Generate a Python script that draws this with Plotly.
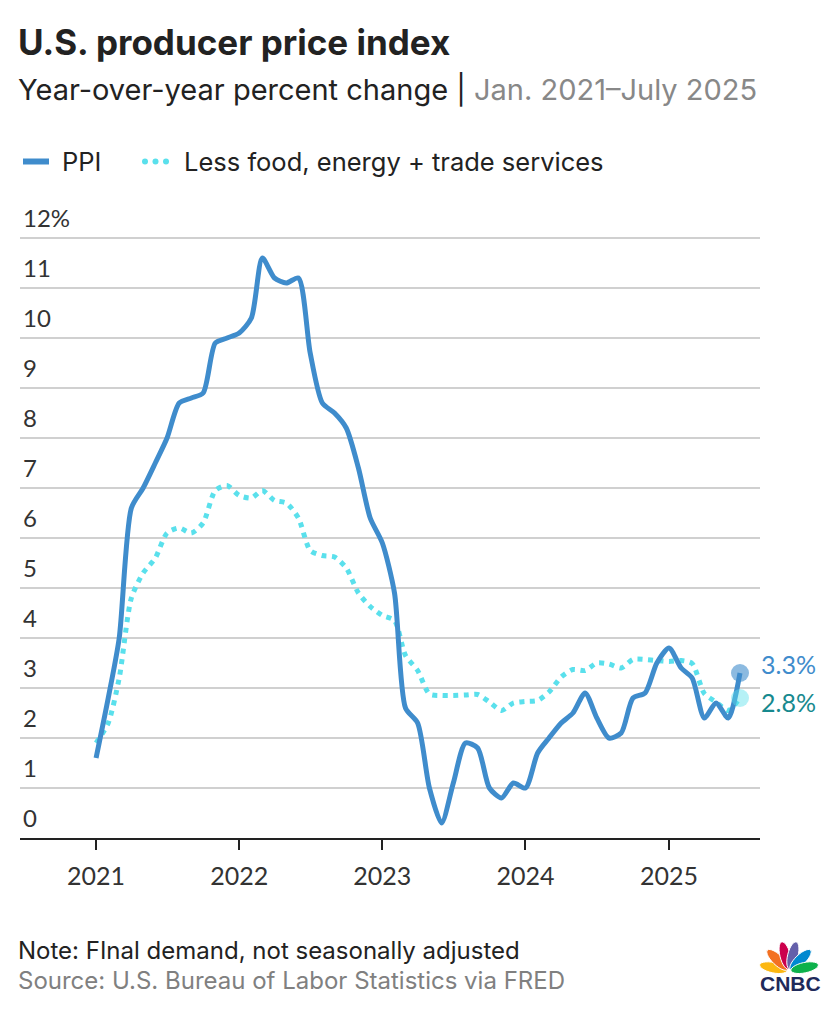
import math
import pandas as pd
import plotly.graph_objects as go

# ---------------- data ----------------
dates = pd.date_range("2021-01-01", "2025-07-01", freq="MS")

ppi = [1.6, 2.8, 4.0, 6.6, 7.0, 7.5, 8.0, 8.7, 8.8, 8.9, 9.9, 10.0,
       10.1, 10.4, 11.6, 11.2, 11.1, 11.2, 9.7, 8.7, 8.5, 8.2, 7.4, 6.4,
       5.9, 4.9, 2.6, 2.3, 1.0, 0.3, 1.1, 1.9, 1.8, 1.0, 0.8, 1.1,
       1.0, 1.7, 2.0, 2.3, 2.5, 2.9, 2.4, 2.0, 2.1, 2.8, 2.9, 3.5,
       3.8, 3.4, 3.2, 2.4, 2.7, 2.4, 3.3]

core = [1.9, 2.3, 3.2, 4.8, 5.3, 5.6, 6.1, 6.2, 6.1, 6.3, 6.95, 7.05,
        6.85, 6.8, 6.95, 6.75, 6.7, 6.4, 5.75, 5.65, 5.62, 5.4, 4.9, 4.63,
        4.45, 4.35, 3.65, 3.35, 2.88, 2.85, 2.85, 2.86, 2.87, 2.72, 2.55, 2.7,
        2.73, 2.75, 2.92, 3.22, 3.37, 3.35, 3.5, 3.48, 3.4, 3.57, 3.57, 3.55,
        3.53, 3.55, 3.49, 2.89, 2.72, 2.55, 2.8]

ytick_vals = list(range(0, 13))
ytick_text = [str(v) for v in ytick_vals[:-1]] + ["12%"]

series_names = ["PPI", "Less food, energy + trade services"]

# ---------------- style ----------------
FONT = "Lato"
TFONT = "Inter"
BLUE = "#3f8ccc"
CYAN = "#5ae0ec"
TEAL = "#17898e"
DARK = "#222222"
GREY = "#808080"

W, H = 840, 1026
L, R, T, B = 20, 760, 213, 838
PW, PH = R - L, B - T


def px(x):
    return (x - L) / PW


def py(y):
    return (B - y) / PH


fig = go.Figure()

fig.add_trace(go.Scatter(
    x=dates, y=core, mode="lines", name=series_names[1],
    line=dict(color=CYAN, width=5, dash="5px,5.5px", shape="spline", smoothing=0.7),
    hoverinfo="skip", showlegend=False))

fig.add_trace(go.Scatter(
    x=dates, y=ppi, mode="lines", name=series_names[0],
    line=dict(color=BLUE, width=5, shape="spline", smoothing=0.7),
    hoverinfo="skip", showlegend=False))

# end markers
fig.add_trace(go.Scatter(
    x=[dates[-1]], y=[core[-1]], mode="markers",
    marker=dict(size=18, color=CYAN, opacity=0.45, line=dict(width=0)),
    hoverinfo="skip", showlegend=False))
fig.add_trace(go.Scatter(
    x=[dates[-1]], y=[ppi[-1]], mode="markers",
    marker=dict(size=18, color=BLUE, opacity=0.6, line=dict(width=0)),
    hoverinfo="skip", showlegend=False))

annotations = []
shapes = []

# end labels
annotations.append(dict(x=dates[-1], y=ppi[-1], xref="x", yref="y",
                        text=f"{ppi[-1]}%", showarrow=False, xanchor="left", yanchor="middle",
                        xshift=19, yshift=9, font=dict(family=FONT, size=25, color=BLUE)))
annotations.append(dict(x=dates[-1], y=core[-1], xref="x", yref="y",
                        text=f"{core[-1]}%", showarrow=False, xanchor="left", yanchor="middle",
                        xshift=19, yshift=-4, font=dict(family=FONT, size=25, color=TEAL)))

# title / subtitle
annotations.append(dict(x=px(16), y=py(42), xref="paper", yref="paper",
                        text="<b>U.S. producer price index</b>", showarrow=False,
                        xanchor="left", yanchor="middle",
                        font=dict(family=TFONT, size=35, color=DARK)))
annotations.append(dict(x=px(16), y=py(90), xref="paper", yref="paper",
                        text="Year-over-year percent change | <span style='color:#888888'>Jan. 2021\u2013July 2025</span>",
                        showarrow=False, xanchor="left", yanchor="middle",
                        font=dict(family=TFONT, size=29, color=DARK)))

# legend
shapes.append(dict(type="line", xref="paper", yref="paper",
                   x0=px(23), x1=px(49), y0=py(161.5), y1=py(161.5),
                   line=dict(color=BLUE, width=6)))
annotations.append(dict(x=px(60), y=py(161), xref="paper", yref="paper",
                        text=series_names[0], showarrow=False, xanchor="left", yanchor="middle",
                        font=dict(family=TFONT, size=25.5, color=DARK)))
for cx in (145, 155.5, 166):
    shapes.append(dict(type="circle", xref="paper", yref="paper",
                       x0=px(cx - 3), x1=px(cx + 3), y0=py(161.5 + 3), y1=py(161.5 - 3),
                       fillcolor=CYAN, line=dict(width=0)))
annotations.append(dict(x=px(182), y=py(161), xref="paper", yref="paper",
                        text=series_names[1], showarrow=False, xanchor="left", yanchor="middle",
                        font=dict(family=TFONT, size=25.5, color=DARK)))

# notes
annotations.append(dict(x=px(16), y=py(950), xref="paper", yref="paper",
                        text="Note: FInal demand, not seasonally adjusted", showarrow=False,
                        xanchor="left", yanchor="middle",
                        font=dict(family=TFONT, size=24, color=DARK)))
annotations.append(dict(x=px(16), y=py(980), xref="paper", yref="paper",
                        text="Source: U.S. Bureau of Labor Statistics via FRED", showarrow=False,
                        xanchor="left", yanchor="middle",
                        font=dict(family=TFONT, size=24, color=GREY)))

# CNBC logo (peacock + wordmark)
base_x, base_y = 789, 971
feathers = [(168, "#FCB711"), (136, "#F37021"), (104, "#CC004C"),
            (76, "#6460AA"), (44, "#0089D0"), (12, "#0DB14B")]
for ang, col in feathers:
    a = math.radians(ang)
    cx = base_x + 16 * math.cos(a)
    cy = base_y - 16 * math.sin(a)
    pts = []
    for k in range(28):
        t = 2 * math.pi * k / 28
        u = 14 * math.cos(t)
        v = 5.2 * math.sin(t)
        xx = cx + u * math.cos(a) - v * math.sin(a)
        yy = cy - (u * math.sin(a) + v * math.cos(a))
        pts.append((px(xx), py(yy)))
    path = "M " + " L ".join(f"{x:.5f},{y:.5f}" for x, y in pts) + " Z"
    shapes.append(dict(type="path", xref="paper", yref="paper", path=path,
                       fillcolor=col, line=dict(width=1, color="white")))
annotations.append(dict(x=px(791), y=py(983), xref="paper", yref="paper",
                        text="<b>CNBC</b>", showarrow=False, xanchor="center", yanchor="middle",
                        font=dict(family="Liberation Sans", size=21, color="#1f2a5a")))

fig.update_layout(
    width=W, height=H,
    margin=dict(l=L, r=W - R, t=T, b=H - B, pad=0),
    paper_bgcolor="white", plot_bgcolor="white",
    font=dict(family=FONT, color=DARK),
    annotations=annotations, shapes=shapes,
    showlegend=False,
    xaxis=dict(type="date", range=["2020-06-21", "2025-08-21"],
               tick0="2021-01-01", dtick="M12", tickformat="%Y",
               ticks="outside", ticklen=10, tickwidth=2, tickcolor=DARK,
               showline=True, linecolor=DARK, linewidth=2,
               showgrid=False, zeroline=False, ticklabelstandoff=5,
               tickfont=dict(family=FONT, size=25, color="#333333")),
    yaxis=dict(range=[0, 12.5], tickvals=ytick_vals, ticktext=ytick_text,
               showgrid=True, gridcolor="#d0d0d0", gridwidth=1.5,
               zeroline=False, showline=False, ticks="",
               ticklabelposition="inside top", ticklabeloverflow="allow",
               ticklabelshift=-3,
               tickfont=dict(family=FONT, size=24, color="#333333")),
)

fig.write_html("out.html")
